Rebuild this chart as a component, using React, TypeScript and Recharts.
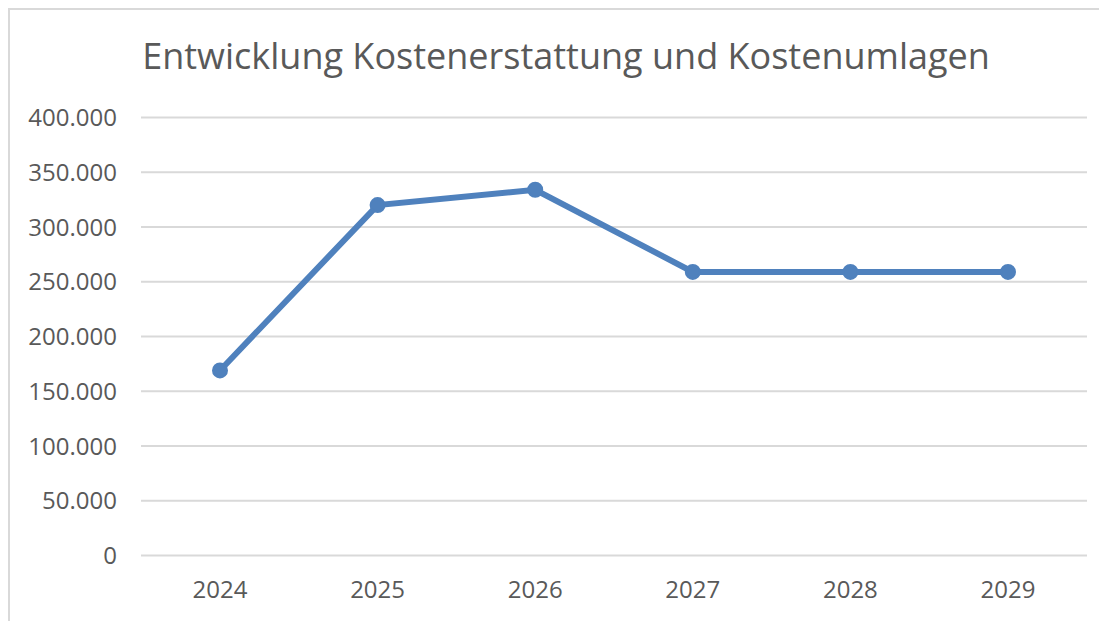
import { CartesianGrid, Line, LineChart, XAxis, YAxis } from "recharts"

const years = ["2024", "2025", "2026", "2027", "2028", "2029"]
const amounts = [169000, 320000, 334000, 259000, 259000, 259000]
const yTicks = [0, 50000, 100000, 150000, 200000, 250000, 300000, 350000, 400000]

const title = "Entwicklung Kostenerstattung und Kostenumlagen"

// German thousands separator, e.g. 350.000
const formatDe = (value: number) => String(value).replace(/\B(?=(\d{3})+(?!\d))/g, ".")

export default function App() {
  const chartData = years.map((year, i) => ({
    year,
    value: amounts[i],
  }));

  return (
    <div style={{ width: 1099, height: 613, overflow: "hidden" }}>
      <div
        style={{
          position: "relative",
          width: 1100,
          height: 620,
          borderLeft: "2px solid #d9d9d9",
          borderTop: "2px solid #d9d9d9",
          fontFamily: "'Open Sans', sans-serif",
        }}
      >
        <div
          style={{
            position: "absolute",
            left: 0,
            top: 28,
            width: 1112,
            textAlign: "center",
            fontSize: 36,
            lineHeight: "36px",
            color: "#595959",
          }}
        >
          {title}
        </div>
        <LineChart
          width={1097}
          height={611}
          data={chartData}
          margin={{ top: 107.5, right: 20, left: 0, bottom: 5.5 }}
        >
          <CartesianGrid horizontal vertical={false} stroke="#d9d9d9" strokeWidth={2} />
          <XAxis
            dataKey="year"
            height={60}
            padding={{ left: 79, right: 79 }}
            axisLine={false}
            tickLine={false}
            tickSize={0}
            tickMargin={25}
            stroke="#595959"
            tick={{ fill: "#595959", fontSize: 24, fontFamily: "'Open Sans', sans-serif" }}
          />
          <YAxis
            width={131}
            domain={[0, 400000]}
            ticks={yTicks}
            axisLine={false}
            tickLine={false}
            tickSize={0}
            tickMargin={24}
            tickFormatter={formatDe}
            tick={{ fill: "#595959", fontSize: 24, fontFamily: "'Open Sans', sans-serif" }}
          />
          <Line
            type="linear"
            dataKey="value"
            stroke="#4f81bd"
            strokeWidth={6}
            dot={{ r: 7, fill: "#4f81bd", stroke: "#4f81bd", strokeWidth: 2 }}
            activeDot={false}
            isAnimationActive={false}
          />
        </LineChart>
      </div>
    </div>
  )
}
